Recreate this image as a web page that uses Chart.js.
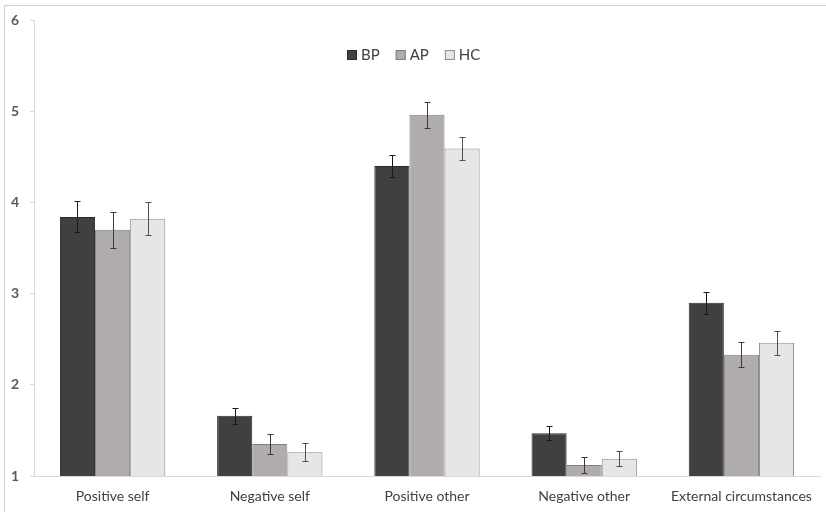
<!DOCTYPE html>
<html>
<head>
<meta charset="utf-8">
<script src="https://cdn.jsdelivr.net/npm/chart.js@4"></script>
<style>
    body { margin: 0; background: #fff; }
    #wrap { position: relative; width: 826px; height: 512px; }
    #frame {
        position: absolute; left: 4px; top: 5px; right: 0; bottom: 0;
        border-top: 1px solid #cfcfcf; border-left: 1px solid #cfcfcf;
        pointer-events: none;
    }
</style>
</head>
<body>
<div id="wrap">
    <canvas id="chart" width="826" height="512"></canvas>
    <div id="frame"></div>
</div>
<script>
// Categories and series (means with standard errors)
const categories = ['Positive self', 'Negative self', 'Positive other', 'Negative other', 'External circumstances'];
const bpValues = [3.84, 1.66, 4.40, 1.47, 2.90];
const apValues = [3.70, 1.35, 4.96, 1.12, 2.33];
const hcValues = [3.82, 1.26, 4.59, 1.19, 2.46];
const bpErrors = [0.17, 0.09, 0.12, 0.08, 0.12];
const apErrors = [0.20, 0.11, 0.14, 0.09, 0.14];
const hcErrors = [0.18, 0.10, 0.13, 0.08, 0.13];
const yTicks = [1, 2, 3, 4, 5, 6];

// Draw error bars from each dataset's errors array
const errorBars = {
    id: 'errorBars',
    afterDatasetsDraw(chart) {
        const ctx = chart.ctx;
        const yScale = chart.scales.y;
        chart.data.datasets.forEach((ds, i) => {
            const meta = chart.getDatasetMeta(i);
            ctx.save();
            ctx.strokeStyle = ds.errorColor;
            ctx.lineWidth = 1;
            meta.data.forEach((bar, j) => {
                const v = ds.data[j];
                const e = ds.errors[j];
                const x = Math.round(bar.x) + 0.5;
                const yTop = Math.round(yScale.getPixelForValue(v + e)) + 0.5;
                const yBot = Math.round(yScale.getPixelForValue(v - e)) + 0.5;
                ctx.beginPath();
                ctx.moveTo(x, yTop); ctx.lineTo(x, yBot);
                ctx.moveTo(x - 3, yTop); ctx.lineTo(x + 3, yTop);
                ctx.moveTo(x - 3, yBot); ctx.lineTo(x + 3, yBot);
                ctx.stroke();
            });
            ctx.restore();
        });
    }
};

// Legend drawn inside the plot, near the top
const insideLegend = {
    id: 'insideLegend',
    afterDraw(chart) {
        const ctx = chart.ctx;
        const area = chart.chartArea;
        ctx.save();
        ctx.font = '15px Lato';
        ctx.textBaseline = 'middle';
        const box = 10, gap = 4, spacing = 16;
        const items = chart.data.datasets.map(ds => ({
            ds: ds,
            w: box + gap + ctx.measureText(ds.label).width
        }));
        const total = items.reduce((s, it) => s + it.w, 0) + spacing * (items.length - 1);
        let x = Math.round((area.left + area.right) / 2 - total / 2) - 13;
        const y = area.top + 35;
        items.forEach(it => {
            ctx.fillStyle = it.ds.backgroundColor;
            ctx.fillRect(x, y - 5, box, box);
            ctx.strokeStyle = it.ds.borderColor;
            ctx.lineWidth = 1;
            ctx.strokeRect(x + 0.5, y - 4.5, box - 1, box - 1);
            ctx.fillStyle = '#404040';
            ctx.fillText(it.ds.label, x + box + gap, y);
            x += it.w + spacing;
        });
        ctx.restore();
    }
};

document.addEventListener('DOMContentLoaded', function() {
    const ctx = document.getElementById('chart').getContext('2d');

    new Chart(ctx, {
        type: 'bar',
        data: {
            labels: categories,
            datasets: [
                {
                    label: 'BP',
                    data: bpValues,
                    errors: bpErrors,
                    backgroundColor: '#404040',
                    borderColor: '#2a2a2a',
                    errorColor: '#1a1a1a',
                    borderWidth: 1
                },
                {
                    label: 'AP',
                    data: apValues,
                    errors: apErrors,
                    backgroundColor: '#b0acab',
                    borderColor: '#7f7f7f',
                    errorColor: '#3a3a3a',
                    borderWidth: 1
                },
                {
                    label: 'HC',
                    data: hcValues,
                    errors: hcErrors,
                    backgroundColor: '#e6e6e6',
                    borderColor: '#8c8c8c',
                    errorColor: '#505050',
                    borderWidth: 1
                }
            ]
        },
        options: {
            responsive: false,
            animation: false,
            events: [],
            layout: {
                padding: { top: 20, right: 6, left: 0, bottom: 0 }
            },
            datasets: {
                bar: {
                    categoryPercentage: 0.67,
                    barPercentage: 1.0
                }
            },
            scales: {
                x: {
                    grid: { display: false, drawTicks: false },
                    border: { display: true, color: '#d9d9d9', width: 1 },
                    ticks: {
                        padding: 12,
                        color: '#404040',
                        font: { family: 'Lato', size: 14 }
                    },
                    afterFit(scale) { scale.height = 36; }
                },
                y: {
                    min: 1,
                    max: 6,
                    afterBuildTicks(scale) {
                        scale.ticks = yTicks.map(v => ({ value: v }));
                    },
                    grid: {
                        display: true,
                        drawOnChartArea: false,
                        drawTicks: true,
                        tickLength: 4,
                        color: '#d9d9d9'
                    },
                    border: { display: true, color: '#d9d9d9', width: 1 },
                    ticks: {
                        padding: 11,
                        color: '#595959',
                        font: { family: 'Lato', size: 14, weight: 'bold' }
                    },
                    afterFit(scale) { scale.width = 34; }
                }
            },
            plugins: {
                tooltip: { enabled: false },
                legend: { display: false }
            }
        },
        plugins: [errorBars, insideLegend]
    });
});
</script>
</body>
</html>
